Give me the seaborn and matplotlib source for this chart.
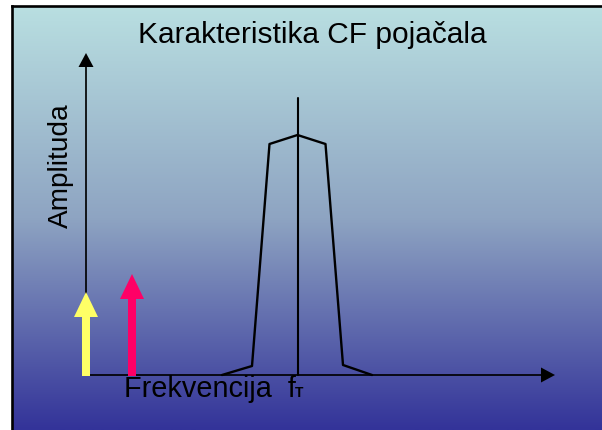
import numpy as np
import pandas as pd
import matplotlib
matplotlib.use("Agg")
import matplotlib.pyplot as plt
from matplotlib.colors import LinearSegmentedColormap
import seaborn as sns

# ---- data (frequency / amplitude in arbitrary units) ----
curve_freq = [136, 166, 183.5, 211.5, 239.5, 257, 286]
curve_amp = [0, 9, 231, 240, 231, 10, 0]
carrier_freq = 211.5
carrier_height = 277
signal_freqs = [0, 46]
signal_amps = [83, 101]
signal_colors = ["#ffff66", "#ff0066"]

title = "Karakteristika CF pojačala"
xlabel = "Frekvencija  f"
xlabel_sub = "T"
ylabel = "Amplituda"

sns.set_theme(style="white")
plt.rcParams['font.family'] = ['Liberation Sans', 'DejaVu Sans']

fig = plt.figure(figsize=(6.02, 4.30), dpi=100, facecolor="white")
ax = fig.add_axes([0, 0, 1, 1])
ax.set_xlim(-86, 516)
ax.set_ylim(-55, 375)
ax.axis("off")

# gradient background
cmap = LinearSegmentedColormap.from_list("bg", ["#b9dfe1", "#8ea4c2", "#333399"], N=256)
grad = np.linspace(0, 1, 256).reshape(-1, 1)
ax.imshow(grad, cmap=cmap, aspect="auto", extent=[-74, 516, -55, 369],
          origin="upper", zorder=0)

# border
ax.plot([-74, -74], [-55, 369], color="black", lw=1.9, zorder=1, solid_capstyle="projecting")
ax.plot([-74, 516], [369, 369], color="black", lw=1.9, zorder=1, solid_capstyle="projecting")

# axes arrows
ax.arrow(-1, 0, 470, 0, width=1.7, head_width=15, head_length=14,
         length_includes_head=True, color="black", lw=0, zorder=3)
ax.arrow(0, -1, 0, 323, width=1.7, head_width=15, head_length=14,
         length_includes_head=True, color="black", lw=0, zorder=3)

# bandpass characteristic
df = pd.DataFrame({"f": curve_freq, "A": curve_amp})
sns.lineplot(data=df, x="f", y="A", ax=ax, color="black", lw=1.7,
             sort=False, estimator=None, zorder=4)
ax.plot([carrier_freq, carrier_freq], [0, carrier_height], color="black", lw=1.5, zorder=4)

# signal arrows
for fx, a, c in zip(signal_freqs, signal_amps, signal_colors):
    ax.arrow(fx, -1, 0, a + 1, width=8, head_width=24, head_length=25,
             length_includes_head=True, color=c, lw=0, zorder=5)

ax.set_xlabel("")
ax.set_ylabel("")

# texts
ax.text(312.5 - 86, 375 - 43, title, fontsize=21.5, ha="center", va="baseline",
        color="black", zorder=6)
ax.text(124 - 86, 375 - 397, xlabel, fontsize=20.8, ha="left", va="baseline",
        color="black", zorder=6)
ax.text(295 - 86, 375 - 397, xlabel_sub, fontsize=10, fontweight="bold",
        ha="left", va="baseline", color="black", zorder=6)
ax.text(67.5 - 86, 375 - 166, ylabel, fontsize=20.2, rotation=90, ha="center",
        va="baseline", rotation_mode="anchor", color="black", zorder=6)

fig.savefig("out.png", dpi=100, facecolor="white")
